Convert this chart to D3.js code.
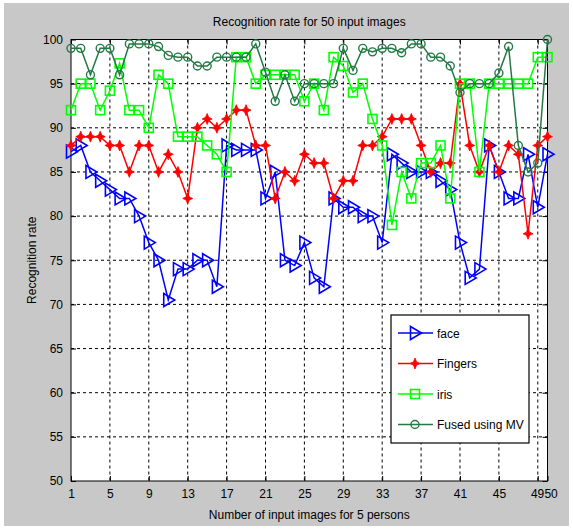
<!DOCTYPE html>
<html>
  <head>
    <meta charset="UTF-8">
    <title>Recognition rate for 50 input images</title>
    <style>
      body { margin: 0; background: #fff; }
      svg { display: block; font-family: "Liberation Sans", Arial, sans-serif; }
    </style>
  </head>
  <body>
    <svg></svg>

    <script src="https://d3js.org/d3.v7.min.js"></script>
    <script>

/* DATA */

var images = d3.range(1, 51);

var face = [87.3, 88, 85, 84, 83, 82, 82, 80, 77, 75,
  70.5, 74, 74, 75, 75, 72, 88, 87.5, 87.5, 87.5,
  82, 85, 75, 74.4, 77, 73, 72, 82, 81, 81,
  80, 80, 77, 87, 86, 85, 85, 85, 84, 83,
  77, 73, 74, 88, 85, 82, 82, 87, 81, 87];

var fingers = [88, 89, 89, 89, 88, 88, 85, 88, 88, 85,
  87, 85, 82, 90, 91, 90, 91, 92, 92, 88,
  88, 82, 85, 84, 87, 86, 86, 82, 84, 84,
  88, 88, 89, 91, 91, 91, 88, 85, 86, 86,
  95, 88, 85, 88, 85, 88, 87, 78, 88, 89];

var iris = [92, 95, 95, 92, 94.2, 97.3, 92, 92, 90, 96,
  95, 89, 89, 89, 88, 87, 85, 98, 98, 95,
  96, 96, 96, 96, 93, 95, 92, 98, 97, 94,
  95, 91, 88, 79, 85, 82, 86, 86, 88, 82,
  95, 95, 85, 95, 95, 95, 95, 95, 98, 98];

var fused = [99, 99, 96, 99, 99, 96, 99.5, 99.5, 99.5, 99.2,
  98.2, 98, 98, 97, 97, 98, 98, 98, 98, 99.5,
  96.3, 93, 96, 93, 95, 95, 95, 95, 99, 96.5,
  99, 98.6, 99, 99, 98.5, 99.5, 99.5, 98, 98, 97,
  94, 95, 95, 95, 96.2, 99.2, 88, 85, 86, 100];

var xTicks = [1, 5, 9, 13, 17, 21, 25, 29, 33, 37, 41, 45, 49, 50];
var yTicks = [50, 55, 60, 65, 70, 75, 80, 85, 90, 95, 100];

var seriesNames = ["face", "Fingers", "iris", "Fused using MV"];

var config = {
  "width": 573,
  "height": 529,
  "plot": { "left": 71, "right": 547.5, "top": 39.5, "bottom": 481 },
  "colors": ["#0000ff", "#ff0000", "#00ff00", "#237a45"],
  "markers": ["triangle", "star", "square", "circle"]
};

/* BUILD THE CHART */

var svg = d3.select("svg")
  .attr("width", config.width)
  .attr("height", config.height);

var p = config.plot;

// figure background
svg.append("rect")
  .attr("x", 4).attr("y", 3)
  .attr("width", config.width - 8).attr("height", config.height - 6)
  .attr("fill", "#c8c8c8");

var x = d3.scaleLinear().domain([1, 50]).range([p.left, p.right]);
var y = d3.scaleLinear().domain([50, 100]).range([p.bottom, p.top]);

// axes area
svg.append("rect")
  .attr("x", p.left).attr("y", p.top)
  .attr("width", p.right - p.left).attr("height", p.bottom - p.top)
  .attr("fill", "#fff");

// dotted grid
svg.append("g")
  .attr("class", "grid")
  .selectAll("line.gx")
  .data(xTicks.slice(1, -1))
  .enter().append("line")
    .attr("x1", function(d){ return x(d); })
    .attr("x2", function(d){ return x(d); })
    .attr("y1", p.top).attr("y2", p.bottom);

svg.select("g.grid")
  .selectAll("line.gy")
  .data(yTicks.slice(1, -1))
  .enter().append("line")
    .attr("x1", p.left).attr("x2", p.right)
    .attr("y1", function(d){ return y(d); })
    .attr("y2", function(d){ return y(d); });

svg.selectAll("g.grid line")
  .attr("stroke", "#000")
  .attr("stroke-width", 1)
  .attr("stroke-dasharray", "3,3");

// axes with inward ticks, MATLAB style
var tick = 5;
function styleAxis(g){
  g.select(".domain").remove();
  g.selectAll(".tick line").attr("stroke", "#000");
  g.selectAll(".tick text")
    .attr("fill", "#000")
    .style("font-size", "12px");
}

var xAxis = svg.append("g")
  .attr("transform", "translate(0," + p.bottom + ")")
  .call(d3.axisBottom(x).tickValues(xTicks).tickFormat(d3.format("d"))
    .tickSizeInner(-tick).tickSizeOuter(0).tickPadding(8))
  .call(styleAxis);

// 49 and 50 sit side by side, as in the original ("4950")
xAxis.selectAll(".tick text")
  .attr("text-anchor", function(d){ return d == 49 ? "end" : (d == 50 ? "start" : "middle"); })
  .attr("dx", function(d){ return d == 49 ? "0.5em" : (d == 50 ? "-0.3em" : 0); });

svg.append("g")
  .attr("transform", "translate(0," + p.top + ")")
  .call(d3.axisTop(x).tickValues(xTicks).tickFormat("")
    .tickSizeInner(-tick).tickSizeOuter(0))
  .call(styleAxis);

svg.append("g")
  .attr("transform", "translate(" + p.left + ",0)")
  .call(d3.axisLeft(y).tickValues(yTicks).tickFormat(d3.format("d"))
    .tickSizeInner(-tick).tickSizeOuter(0).tickPadding(8))
  .call(styleAxis);

svg.append("g")
  .attr("transform", "translate(" + p.right + ",0)")
  .call(d3.axisRight(y).tickValues(yTicks).tickFormat("")
    .tickSizeInner(-tick).tickSizeOuter(0))
  .call(styleAxis);

// box
svg.append("rect")
  .attr("x", p.left).attr("y", p.top)
  .attr("width", p.right - p.left).attr("height", p.bottom - p.top)
  .attr("fill", "none")
  .attr("stroke", "#000")
  .attr("stroke-width", 1);

// markers
function marker(g, type, color){
  if (type == "triangle") {
    g.append("path").attr("d", "M-4.5,-6.5L6.5,0L-4.5,6.5Z")
      .attr("fill", "none").attr("stroke", color).attr("stroke-width", 1.6);
  } else if (type == "star") {
    g.append("path").attr("d", "M0,-5.5L1.6,-1.6L5,0L1.6,1.6L0,5.5L-1.6,1.6L-5,0L-1.6,-1.6Z")
      .attr("fill", color).attr("stroke", color).attr("stroke-width", 0.8);
  } else if (type == "square") {
    g.append("rect").attr("x", -4.5).attr("y", -4.5).attr("width", 9).attr("height", 9)
      .attr("fill", "none").attr("stroke", color).attr("stroke-width", 1.6);
  } else {
    g.append("circle").attr("r", 4)
      .attr("fill", "none").attr("stroke", color).attr("stroke-width", 1.4);
  }
}

var allSeries = [face, fingers, iris, fused];

var line = d3.line()
  .x(function(d, i){ return x(images[i]); })
  .y(function(d){ return y(d); });

allSeries.forEach(function(values, s){
  var color = config.colors[s];
  var g = svg.append("g").attr("class", "series");
  g.append("path")
    .datum(values)
    .attr("d", line)
    .attr("fill", "none")
    .attr("stroke", color)
    .attr("stroke-width", 1.5);
  g.selectAll("g.pt")
    .data(values)
    .enter().append("g")
      .attr("class", "pt")
      .attr("transform", function(d, i){ return "translate(" + x(images[i]) + "," + y(d) + ")"; })
      .each(function(){ marker(d3.select(this), config.markers[s], color); });
});

// legend
var legend = svg.append("g").attr("transform", "translate(391,315)");
legend.append("rect")
  .attr("width", 138).attr("height", 128)
  .attr("fill", "#fff").attr("stroke", "#000").attr("stroke-width", 1.2);

seriesNames.forEach(function(name, s){
  var ly = 18 + s * 30.5;
  var color = config.colors[s];
  legend.append("line")
    .attr("x1", 7).attr("x2", 42).attr("y1", ly).attr("y2", ly)
    .attr("stroke", color).attr("stroke-width", 1.5);
  var m = legend.append("g").attr("transform", "translate(24," + ly + ")");
  marker(m, config.markers[s], color);
  legend.append("text")
    .attr("x", 46).attr("y", ly + 4.5)
    .style("font-size", "12px")
    .text(name);
});

// titles
svg.append("text")
  .attr("x", (p.left + p.right) / 2).attr("y", 26)
  .attr("text-anchor", "middle")
  .style("font-size", "12px")
  .text("Recognition rate for 50 input images");

svg.append("text")
  .attr("x", (p.left + p.right) / 2).attr("y", 519)
  .attr("text-anchor", "middle")
  .style("font-size", "12px")
  .text("Number of input images for 5 persons");

svg.append("text")
  .attr("transform", "translate(36," + ((p.top + p.bottom) / 2) + ") rotate(-90)")
  .attr("text-anchor", "middle")
  .style("font-size", "12px")
  .text("Recognition rate");

    </script>
  </body>
</html>
